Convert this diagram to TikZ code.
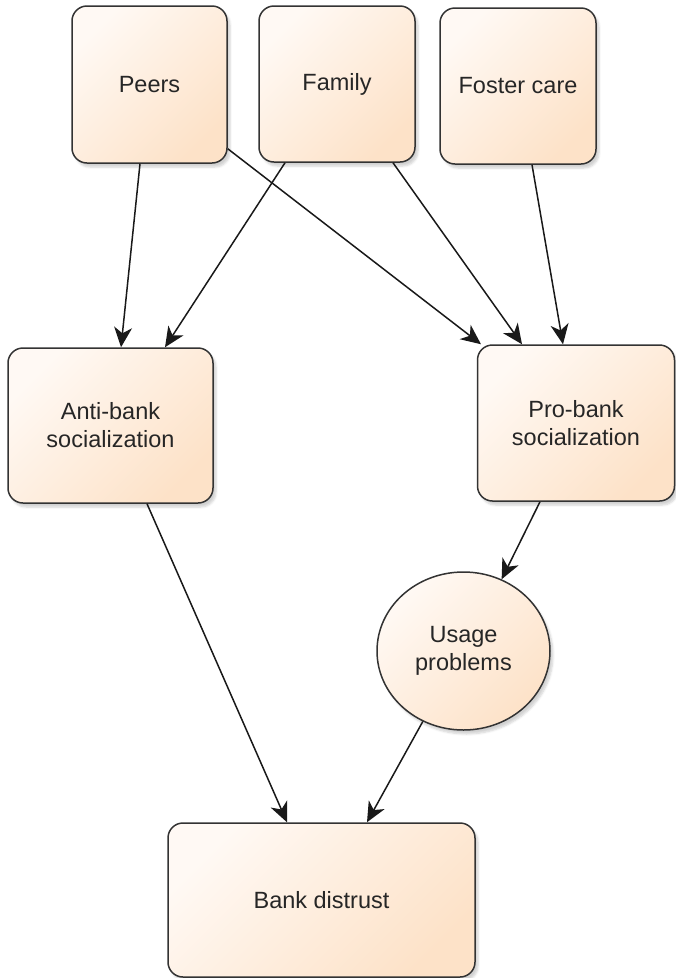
\documentclass[tikz,border=0pt]{standalone}
\usepackage{fontspec}
\setmainfont{Liberation Sans}
\usetikzlibrary{arrows.meta,shapes.geometric,shadows.blur}
\definecolor{boxlight}{HTML}{FFF9F4}
\definecolor{boxdark}{HTML}{FDE2C8}
\definecolor{edgegray}{HTML}{333333}
\tikzset{
  card/.style={draw=edgegray, line width=1.5pt, rounded corners=15pt,
    top color=boxlight, bottom color=boxdark, shading angle=45,
    blur shadow={shadow xshift=3pt, shadow yshift=-4pt, shadow opacity=18, shadow blur steps=6},
    align=center, text=black!85, font=\fontsize{23.5}{28}\selectfont, inner sep=0pt},
  bubble/.style={card, ellipse, rounded corners=0pt},
  link/.style={draw=black!90, line width=1.5pt, arrows={-Stealth[length=20pt,width=18pt,inset=6pt]}}
}
\begin{document}
\begin{tikzpicture}[x=1pt,y=-1pt]
\useasboundingbox (0,0) rectangle (676,978);
\node[card, minimum width=155pt, minimum height=157pt] (peers) at (149.5,84.5) {Peers};
\node[card, minimum width=156pt, minimum height=156pt] (family) at (337,84) {Family};
\node[card, minimum width=156pt, minimum height=156pt] (foster) at (518,86) {Foster care};
\node[card, minimum width=205pt, minimum height=155pt] (anti) at (110.5,425.5) {Anti-bank\\socialization};
\node[card, minimum width=197pt, minimum height=156pt] (pro) at (576,423) {Pro-bank\\socialization};
\node[bubble, minimum width=173pt, minimum height=158pt] (usage) at (463.5,651) {Usage\\problems};
\node[card, minimum width=307pt, minimum height=154pt] (bank) at (321.5,900) {Bank distrust};

\draw[link] ([xshift=-9.5pt]peers.south) -- ([xshift=10.5pt]anti.north);
\draw[link] ([xshift=-52pt]family.south) -- ([xshift=54.5pt]anti.north);
\draw[link] ([yshift=15pt]peers.south east) -- ([xshift=-95pt]pro.north);
\draw[link] ([xshift=56pt]family.south) -- ([xshift=-54pt]pro.north);
\draw[link] ([xshift=14pt]foster.south) -- ([xshift=-13pt]pro.north);
\draw[link] ([xshift=-36pt]pro.south) -- (usage.62);
\draw[link] (usage.240) -- ([xshift=45.5pt]bank.north);
\draw[link] ([xshift=36.5pt]anti.south) -- ([xshift=-34.5pt]bank.north);
\end{tikzpicture}
\end{document}
